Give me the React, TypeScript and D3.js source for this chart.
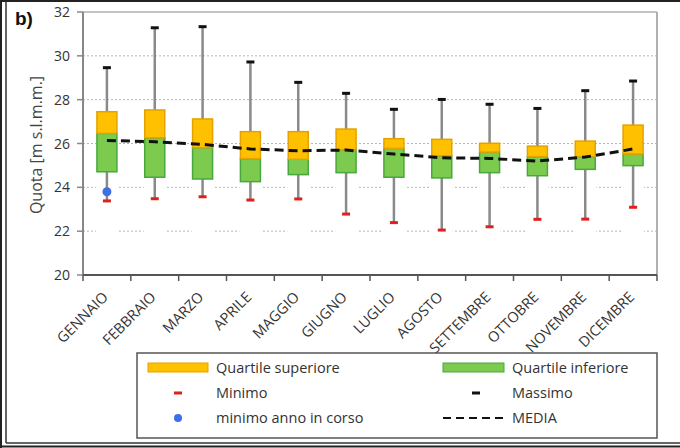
import React from "react";
import * as d3 from "d3";

// Monthly water level statistics (m s.l.m.m.)
const months = [
  "GENNAIO", "FEBBRAIO", "MARZO", "APRILE", "MAGGIO", "GIUGNO",
  "LUGLIO", "AGOSTO", "SETTEMBRE", "OTTOBRE", "NOVEMBRE", "DICEMBRE",
];
const maxVals = [29.46, 31.28, 31.33, 29.72, 28.79, 28.29, 27.56, 28.01, 27.79, 27.6, 28.41, 28.85];
const q3Vals = [27.45, 27.53, 27.12, 26.54, 26.54, 26.66, 26.22, 26.19, 26.01, 25.88, 26.11, 26.84];
const medianVals = [26.46, 26.26, 25.81, 25.31, 25.28, 25.72, 25.78, 25.44, 25.61, 25.4, 25.4, 25.52];
const q1Vals = [24.71, 24.46, 24.38, 24.26, 24.58, 24.67, 24.46, 24.43, 24.67, 24.53, 24.82, 24.99];
const minVals = [23.38, 23.48, 23.57, 23.42, 23.47, 22.78, 22.39, 22.05, 22.2, 22.54, 22.55, 23.09];
const meanVals = [26.14, 26.08, 25.96, 25.75, 25.67, 25.7, 25.52, 25.35, 25.32, 25.2, 25.38, 25.75];
// Current-year minimum (only January so far)
const currentMin = [{ month: "GENNAIO", value: 23.8 }];
const yTicks = [20, 22, 24, 26, 28, 30, 32];

const W = 680;
const H = 448;
const plot = { left: 83, right: 657, top: 12, bottom: 275 };
const FONT = "'Open Sans', 'Noto Sans', sans-serif";
const TEXT = "#333";

const ORANGE = "#ffc000";
const ORANGE_STROKE = "#e3a200";
const GREEN = "#7dcb4e";
const GREEN_STROKE = "#48a83e";
const RED = "#e0201c";
const BLUE = "#3d6fe6";

export default function App() {
  const x = d3.scaleBand<string>().domain(months).range([plot.left, plot.right]);
  const y = d3.scaleLinear().domain([20, 32]).range([plot.bottom, plot.top]);
  const cx = (m: string) => (x(m) as number) + x.bandwidth() / 2;
  const boxW = 20;
  const capW = 8;

  const meanLine = d3
    .line<number>()
    .x((_, i) => cx(months[i]))
    .y((d) => y(d))(meanVals) as string;

  return (
    <svg
      width={W}
      height={H}
      style={{ position: "absolute", left: 0, top: 0, background: "#fff" }}
      fontFamily={FONT}
    >
      {/* outer frame */}
      <line x1={0} x2={W} y1={1} y2={1} stroke="#222" strokeWidth={2} />
      <line x1={1} x2={1} y1={0} y2={H} stroke="#222" strokeWidth={2} />
      <line x1={6} x2={6} y1={1} y2={443} stroke="#333" strokeWidth={1.5} />
      <line x1={6} x2={W} y1={443} y2={443} stroke="#333" strokeWidth={1.5} />
      <line x1={0} x2={W} y1={446.5} y2={446.5} stroke="#222" strokeWidth={2} />

      {/* panel label */}
      <text x={15} y={25} fontSize={19} fontWeight="bold" fill="#111" fontFamily="'Liberation Sans', Arial, sans-serif">
        b)
      </text>

      {/* gridlines */}
      {yTicks.slice(1, -1).map((t) => (
        <line
          key={t}
          x1={plot.left}
          x2={plot.right}
          y1={y(t)}
          y2={y(t)}
          stroke="#b5b5b5"
          strokeWidth={1}
          strokeDasharray="2,2"
        />
      ))}
      {/* plot frame top/right */}
      <line x1={plot.left} x2={plot.right} y1={y(32)} y2={y(32)} stroke="#c4c4c4" strokeWidth={2} />
      <line x1={plot.right} x2={plot.right} y1={y(32)} y2={plot.bottom} stroke="#b0b0b0" strokeWidth={2} />

      {/* hidden base bars below the boxes */}
      {months.map((m, i) => (
        <rect
          key={m}
          x={cx(m) - boxW / 2 - 1}
          width={boxW + 2}
          y={y(q1Vals[i])}
          height={y(20) - y(q1Vals[i]) - 1}
          fill="#fff"
        />
      ))}

      {/* whiskers */}
      {months.map((m, i) => (
        <line
          key={m}
          x1={cx(m)}
          x2={cx(m)}
          y1={y(minVals[i])}
          y2={y(maxVals[i])}
          stroke="#8a8a8a"
          strokeWidth={2.5}
        />
      ))}

      {/* lower quartile boxes */}
      {months.map((m, i) => (
        <rect
          key={m}
          x={cx(m) - boxW / 2}
          width={boxW}
          y={y(medianVals[i])}
          height={y(q1Vals[i]) - y(medianVals[i])}
          fill={GREEN}
          stroke={GREEN_STROKE}
          strokeWidth={1.5}
        />
      ))}
      {/* upper quartile boxes */}
      {months.map((m, i) => (
        <rect
          key={m}
          x={cx(m) - boxW / 2}
          width={boxW}
          y={y(q3Vals[i])}
          height={y(medianVals[i]) - y(q3Vals[i])}
          fill={ORANGE}
          stroke={ORANGE_STROKE}
          strokeWidth={1.5}
        />
      ))}

      {/* max / min caps */}
      {months.map((m, i) => (
        <rect key={m} x={cx(m) - capW / 2} width={capW} y={y(maxVals[i]) - 1.5} height={3} fill="#111" />
      ))}
      {months.map((m, i) => (
        <rect key={m} x={cx(m) - capW / 2} width={capW} y={y(minVals[i]) - 1.5} height={3} fill={RED} />
      ))}

      {/* mean line */}
      <path d={meanLine} fill="none" stroke="#111" strokeWidth={3} strokeDasharray="9,5" />

      {/* current-year minimum */}
      {currentMin.map((d) => (
        <circle key={d.month} cx={cx(d.month)} cy={y(d.value)} r={4.5} fill={BLUE} />
      ))}

      {/* y axis */}
      <line x1={plot.left} x2={plot.left} y1={plot.top} y2={plot.bottom} stroke="#888" strokeWidth={2} />
      {yTicks.map((t) => (
        <g key={t}>
          <line x1={plot.left - 6} x2={plot.left} y1={y(t)} y2={y(t)} stroke="#888" strokeWidth={1.5} />
          <text x={70} y={y(t)} dy="0.36em" textAnchor="end" fontSize={14} fill={TEXT}>
            {t}
          </text>
        </g>
      ))}
      <text
        transform={`translate(42, 145) rotate(-90)`}
        textAnchor="middle"
        fontSize={16}
        fill="#444"
      >
        Quota [m s.l.m.m.]
      </text>

      {/* x axis */}
      <line x1={plot.left} x2={plot.right} y1={plot.bottom} y2={plot.bottom} stroke="#555" strokeWidth={2} />
      {[...months.map((m) => x(m) as number), plot.right].map((t, i) => (
        <line key={i} x1={t} x2={t} y1={plot.bottom} y2={plot.bottom + 6} stroke="#555" strokeWidth={1.5} />
      ))}
      {months.map((m) => (
        <text
          key={m}
          transform={`translate(${cx(m) + 2}, 298) rotate(-45)`}
          textAnchor="end"
          fontSize={14.5}
          fill={TEXT}
        >
          {m}
        </text>
      ))}

      {/* legend */}
      <rect x={137} y={353} width={520} height={85} fill="#fff" stroke="#555" strokeWidth={1.5} />
      <rect x={148} y={363} width={60} height={9} fill={ORANGE} stroke={ORANGE_STROKE} strokeWidth={1} />
      <text x={216} y={368} dy="0.36em" fontSize={14.5} fill={TEXT}>Quartile superiore</text>
      <rect x={174} y={391.5} width={8} height={3} fill={RED} />
      <text x={216} y={393} dy="0.36em" fontSize={14.5} fill={TEXT}>Minimo</text>
      <circle cx={178} cy={418} r={4} fill={BLUE} />
      <text x={216} y={418} dy="0.36em" fontSize={14.5} fill={TEXT}>minimo anno in corso</text>

      <rect x={443} y={363} width={61} height={9} fill={GREEN} stroke={GREEN_STROKE} strokeWidth={1} />
      <text x={512} y={368} dy="0.36em" fontSize={14.5} fill={TEXT}>Quartile inferiore</text>
      <rect x={472} y={391.5} width={8} height={3} fill="#111" />
      <text x={512} y={393} dy="0.36em" fontSize={14.5} fill={TEXT}>Massimo</text>
      <line x1={443} x2={503} y1={418} y2={418} stroke="#111" strokeWidth={2} strokeDasharray="8,5" />
      <text x={512} y={418} dy="0.36em" fontSize={14.5} fill={TEXT}>MEDIA</text>
    </svg>
  );
}
